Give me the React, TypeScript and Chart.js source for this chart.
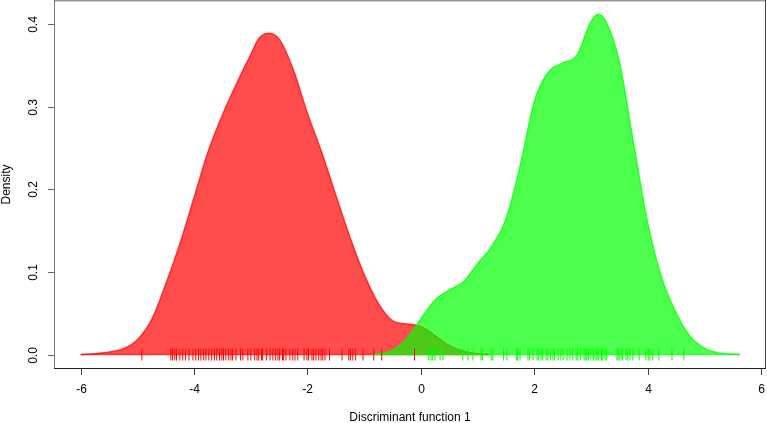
import React, { useEffect, useRef } from 'react';
import { Chart, registerables } from 'chart.js';

Chart.register(...registerables);

// Density estimate, group 1 (red)
const RED_X = [-6.0, -5.75, -5.5, -5.25, -5.0, -4.75, -4.5, -4.25, -4.0, -3.75, -3.5, -3.25, -3.0, -2.85, -2.68, -2.5, -2.25, -2.0, -1.75, -1.5, -1.25, -1.0, -0.75, -0.5, -0.25, 0.0, 0.25, 0.5, 0.75, 1.0, 1.2];
const RED_Y = [0.0, 0.001, 0.003, 0.007, 0.018, 0.042, 0.085, 0.134, 0.19, 0.246, 0.29, 0.328, 0.363, 0.383, 0.389, 0.382, 0.345, 0.292, 0.245, 0.193, 0.142, 0.097, 0.062, 0.041, 0.037, 0.034, 0.023, 0.011, 0.004, 0.001, 0.0];

// Density estimate, group 2 (green)
const GREEN_X = [-0.85, -0.75, -0.5, -0.25, 0.0, 0.25, 0.5, 0.75, 1.0, 1.25, 1.5, 1.75, 2.0, 2.25, 2.5, 2.75, 3.0, 3.13, 3.25, 3.5, 3.75, 4.0, 4.25, 4.5, 4.75, 5.0, 5.25, 5.5, 5.63];
const GREEN_Y = [0.0, 0.001, 0.005, 0.019, 0.043, 0.066, 0.078, 0.088, 0.11, 0.131, 0.164, 0.228, 0.306, 0.342, 0.353, 0.362, 0.403, 0.412, 0.405, 0.355, 0.257, 0.16, 0.093, 0.051, 0.022, 0.008, 0.002, 0.0005, 0.0];

// Rug (observations)
const RED_RUG = [-4.92, -4.41, -4.38, -4.34, -4.31, -4.25, -4.2, -4.15, -4.09, -4.02, -3.97, -3.92, -3.88, -3.83, -3.79, -3.74, -3.69, -3.64, -3.6, -3.55, -3.51, -3.48, -3.44, -3.39, -3.35, -3.32, -3.26, -3.18, -3.14, -3.05, -3.0, -2.93, -2.89, -2.86, -2.81, -2.79, -2.72, -2.66, -2.61, -2.56, -2.52, -2.49, -2.44, -2.42, -2.38, -2.31, -2.26, -2.22, -2.17, -2.06, -2.01, -1.98, -1.92, -1.89, -1.85, -1.8, -1.76, -1.73, -1.69, -1.61, -1.39, -1.27, -1.24, -1.2, -1.15, -1.02, -0.83, -0.69, -0.11];
const GREEN_RUG = [0.14, 0.18, 0.21, 0.25, 0.34, 0.39, 0.74, 0.83, 0.92, 1.06, 1.09, 1.24, 1.27, 1.46, 1.52, 1.69, 1.71, 1.75, 1.89, 1.92, 1.98, 2.05, 2.08, 2.12, 2.15, 2.21, 2.24, 2.29, 2.33, 2.36, 2.42, 2.47, 2.51, 2.58, 2.63, 2.68, 2.74, 2.77, 2.82, 2.88, 2.91, 2.93, 2.96, 3.0, 3.04, 3.05, 3.09, 3.11, 3.14, 3.18, 3.19, 3.21, 3.25, 3.28, 3.46, 3.48, 3.51, 3.55, 3.56, 3.62, 3.65, 3.69, 3.74, 3.85, 3.97, 4.01, 4.04, 4.09, 4.2, 4.43, 4.64];

const X_TICKS = [-6, -4, -2, 0, 2, 4, 6];
const X_TICK_LABELS = ['-6', '-4', '-2', '0', '2', '4', '6'];
const Y_TICKS = [0, 0.1, 0.2, 0.3, 0.4];
const Y_TICK_LABELS = ['0.0', '0.1', '0.2', '0.3', '0.4'];
const X_TITLE = 'Discriminant function 1';
const Y_TITLE = 'Density';

const FONT = '12px "Liberation Sans", Arial, Helvetica, sans-serif';

const rAxesPlugin = {
  id: 'rAxes',
  afterDraw(chart: any) {
    const ctx = chart.ctx;
    const a = chart.chartArea;
    const xs = chart.scales.x;
    const ys = chart.scales.y;
    ctx.save();
    // box
    ctx.lineWidth = 1.5;
    ctx.strokeStyle = '#999999';
    ctx.beginPath();
    ctx.moveTo(a.left - 1, 0.75);
    ctx.lineTo(a.right + 1, 0.75);
    ctx.stroke();
    ctx.lineWidth = 1;
    ctx.strokeStyle = '#777777';
    ctx.beginPath();
    ctx.moveTo(a.left - 0.5, 0);
    ctx.lineTo(a.left - 0.5, a.bottom + 1);
    ctx.stroke();
    ctx.strokeStyle = '#444444';
    ctx.beginPath();
    ctx.moveTo(a.right + 0.5, 0);
    ctx.lineTo(a.right + 0.5, a.bottom + 1);
    ctx.stroke();
    ctx.strokeStyle = '#222222';
    ctx.beginPath();
    ctx.moveTo(a.left - 1, a.bottom + 0.5);
    ctx.lineTo(a.right + 1, a.bottom + 0.5);
    ctx.stroke();

    ctx.font = FONT;
    ctx.fillStyle = '#000000';
    ctx.textAlign = 'center';
    ctx.textBaseline = 'middle';

    // x ticks
    ctx.strokeStyle = '#444444';
    X_TICKS.forEach((v, i) => {
      const px = Math.round(xs.getPixelForValue(v)) + 0.5;
      ctx.beginPath();
      ctx.moveTo(px, a.bottom + 1);
      ctx.lineTo(px, a.bottom + 7);
      ctx.stroke();
      ctx.fillText(X_TICK_LABELS[i], px, 390);
    });

    // y ticks
    ctx.strokeStyle = '#666666';
    Y_TICKS.forEach((v, i) => {
      const py = Math.round(ys.getPixelForValue(v)) + 0.5;
      ctx.beginPath();
      ctx.moveTo(a.left - 1, py);
      ctx.lineTo(a.left - 7, py);
      ctx.stroke();
      ctx.save();
      ctx.translate(34, py);
      ctx.rotate(-Math.PI / 2);
      ctx.fillText(Y_TICK_LABELS[i], 0, 0);
      ctx.restore();
    });

    // titles
    ctx.fillText(X_TITLE, (a.left + a.right) / 2, 418);
    ctx.save();
    ctx.translate(7, (a.top + a.bottom) / 2);
    ctx.rotate(-Math.PI / 2);
    ctx.fillText(Y_TITLE, 0, 0);
    ctx.restore();
    ctx.restore();
  },
};

export default function App() {
  const ref = useRef<HTMLCanvasElement | null>(null);

  useEffect(() => {
    if (!ref.current) return;
    const redPts = RED_X.map((x, i) => ({ x, y: RED_Y[i] }));
    const greenPts = GREEN_X.map((x, i) => ({ x, y: GREEN_Y[i] }));
    const redBase = [{ x: RED_X[0], y: 0 }, { x: RED_X[RED_X.length - 1], y: 0 }];
    const greenBase = [{ x: GREEN_X[0], y: 0 }, { x: GREEN_X[GREEN_X.length - 1], y: 0 }];

    const chart = new Chart(ref.current, {
      type: 'line',
      data: {
        datasets: [
          {
            data: redPts,
            order: 6,
            borderColor: 'rgba(255,0,0,0.7)',
            backgroundColor: 'rgba(255,0,0,0.7)',
            borderWidth: 1.5,
            fill: 'origin',
            pointRadius: 0,
            cubicInterpolationMode: 'monotone',
          },
          {
            data: redBase,
            order: 5,
            borderColor: 'rgba(255,0,0,0.7)',
            borderWidth: 1.5,
            fill: false,
            pointRadius: 0,
          },
          {
            data: greenPts,
            order: 4,
            borderColor: 'rgba(0,255,0,0.7)',
            backgroundColor: 'rgba(0,255,0,0.7)',
            borderWidth: 1.5,
            fill: 'origin',
            pointRadius: 0,
            cubicInterpolationMode: 'monotone',
          },
          {
            data: greenBase,
            order: 3,
            borderColor: 'rgba(0,255,0,0.7)',
            borderWidth: 1.5,
            fill: false,
            pointRadius: 0,
          },
          {
            data: RED_RUG.map((x) => ({ x, y: 0 })),
            order: 2,
            showLine: false,
            pointStyle: 'line',
            pointRotation: 90,
            pointRadius: 6,
            pointBorderWidth: 1,
            borderColor: '#ff0000',
            pointBorderColor: '#ff0000',
            backgroundColor: '#ff0000',
          },
          {
            data: GREEN_RUG.map((x) => ({ x, y: 0 })),
            order: 1,
            showLine: false,
            pointStyle: 'line',
            pointRotation: 90,
            pointRadius: 6,
            pointBorderWidth: 1,
            borderColor: '#00ff00',
            pointBorderColor: '#00ff00',
            backgroundColor: '#00ff00',
          },
        ],
      } as any,
      options: {
        responsive: false,
        animation: false,
        events: [],
        layout: { autoPadding: false, padding: { left: 55, right: 2, top: 1, bottom: 55 } },
        plugins: { legend: { display: false }, tooltip: { enabled: false } },
        scales: {
          x: { type: 'linear', min: -6.453, max: 6.071, display: false },
          y: { type: 'linear', min: -0.0163, max: 0.4279, display: false },
        },
      } as any,
      plugins: [rAxesPlugin],
    });
    return () => chart.destroy();
  }, []);

  return (
    <div style={{ position: 'fixed', left: 0, top: 0, width: 767, height: 423, background: '#ffffff' }}>
      <canvas ref={ref} width={767} height={423} style={{ display: 'block', width: 767, height: 423 }} />
    </div>
  );
}
